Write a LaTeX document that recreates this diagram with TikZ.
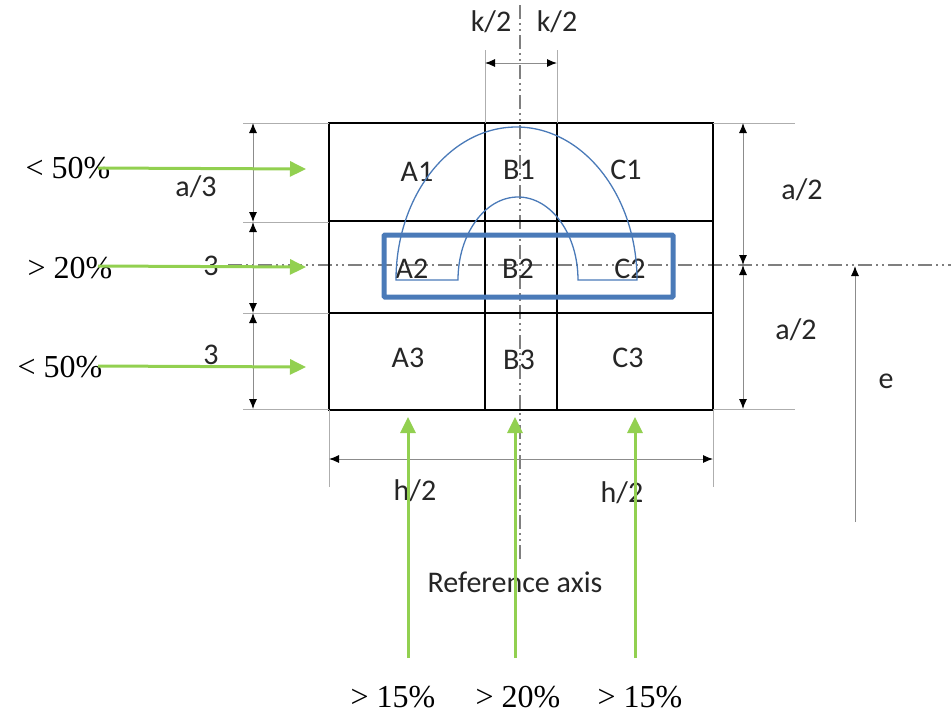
\documentclass[tikz,border=0pt]{standalone}
\usepackage{fontspec}
\setmainfont{Liberation Serif}
\newfontfamily\calib{Carlito}
\usetikzlibrary{arrows.meta}
\definecolor{grn}{HTML}{92D050}
\definecolor{blu}{HTML}{4A7AB8}
\definecolor{dimg}{HTML}{8C8C8C}
\definecolor{axg}{HTML}{7F7F7F}
\tikzset{
  grid/.style={line width=2.8pt,black},
  dimline/.style={line width=1pt,dimg,-{Latex[length=10pt,width=8pt,black]}},
  extline/.style={line width=1pt,dimg!70},
  axis/.style={line width=2pt,axg,dash pattern=on 14pt off 4pt on 2pt off 4pt on 2pt off 4pt},
  garrow/.style={line width=3pt,grn,-{Triangle[length=16pt,width=15pt]}},
  pct/.style={font=\fontsize{32}{36}\selectfont,inner sep=0pt},
  lbl/.style={font=\calib\fontsize{30}{34}\selectfont,text=black!85,inner sep=0pt},
  arch/.style={line width=1.3pt,blu}
}
\begin{document}
\begin{tikzpicture}[x=1pt,y=-1pt]
\useasboundingbox (0,0) rectangle (951,716);
% axes
\coordinate (vtop) at (520,5);
\coordinate (vbot) at (520,560);
\coordinate (hl) at (228,265);
\coordinate (hr) at (951,265);
\draw[axis] (vtop) -- (vbot);
\draw[axis] (hl) -- (hr);
% grid
\coordinate (g00) at (329,123); \coordinate (g11) at (713,410);
\draw[grid] (g00) rectangle (g11);
\coordinate (v1t) at (485,123); \coordinate (v1b) at (485,410);
\coordinate (v2t) at (557,123); \coordinate (v2b) at (557,410);
\coordinate (h1l) at (329,221); \coordinate (h1r) at (713,221);
\coordinate (h2l) at (329,313); \coordinate (h2r) at (713,313);
\draw[grid] (v1t) -- (v1b);
\draw[grid] (v2t) -- (v2b);
\draw[grid] (h1l) -- (h1r);
\draw[grid] (h2l) -- (h2r);
% cell labels
\node[lbl] (A1) at (417,172) {A1};
\node[lbl] (B1) at (519,170) {B1};
\node[lbl] (C1) at (626,170) {C1};
\node[lbl] (A2) at (412,269) {A2};
\node[lbl] (B2) at (518,269) {B2};
\node[lbl] (C2) at (630,269) {C2};
\node[lbl] (A3) at (408,358) {A3};
\node[lbl] (B3) at (519,360) {B3};
\node[lbl] (C3) at (628,358) {C3};
% blue arches
\draw[arch] (396,280) arc[start angle=180,end angle=360,x radius=120.5,y radius=153]
  -- (578,280) arc[start angle=0,end angle=-180,x radius=60,y radius=83] -- cycle;
\draw[line width=5pt,blu,rounded corners=1pt] (384,235) rectangle (673,297);
% left dimensions
\coordinate (le1a) at (243,123); \coordinate (le1b) at (329,123);
\coordinate (le2a) at (243,222); \coordinate (le2b) at (329,222);
\coordinate (le3a) at (243,313); \coordinate (le3b) at (329,313);
\coordinate (le4a) at (243,409); \coordinate (le4b) at (329,409);
\foreach \i in {1,2,3,4} \draw[extline] (le\i a) -- (le\i b);
\coordinate (ld1) at (253,123); \coordinate (ld2) at (253,222);
\coordinate (ld3) at (253,313); \coordinate (ld4) at (253,409);
\coordinate (ldm1) at (253,172); \coordinate (ldm2) at (253,267); \coordinate (ldm3) at (253,361);
\draw[dimline] (ldm1) -- (ld1); \draw[dimline] (ldm1) -- (ld2);
\draw[dimline] (ldm2) -- (ld2); \draw[dimline] (ldm2) -- (ld3);
\draw[dimline] (ldm3) -- (ld3); \draw[dimline] (ldm3) -- (ld4);
\node[lbl] (la1) at (196,187) {a/3};
\node[lbl] (la2) at (211,266) {3};
\node[lbl] (la3) at (211,355) {3};
% right dimensions
\coordinate (re1a) at (713,123); \coordinate (re1b) at (795,123);
\coordinate (re2a) at (713,409); \coordinate (re2b) at (795,409);
\draw[extline] (re1a) -- (re1b);
\draw[extline] (re2a) -- (re2b);
\coordinate (rd1) at (743,123); \coordinate (rd2) at (743,265); \coordinate (rd3) at (743,409);
\coordinate (rdm1) at (743,194); \coordinate (rdm2) at (743,337);
\draw[dimline] (rdm1) -- (rd1); \draw[dimline] (rdm1) -- (rd2);
\draw[dimline] (rdm2) -- (rd2); \draw[dimline] (rdm2) -- (rd3);
\node[lbl] (ra1) at (802,190) {a/2};
\node[lbl] (ra2) at (796,330) {a/2};
\coordinate (eb) at (855,522); \coordinate (et) at (855,266);
\draw[dimline] (eb) -- (et);
\node[lbl] (el) at (886,381) {e};
% top dimension k/2
\coordinate (te1a) at (485,50); \coordinate (te1b) at (485,123);
\coordinate (te2a) at (557,50); \coordinate (te2b) at (557,123);
\draw[extline] (te1a) -- (te1b);
\draw[extline] (te2a) -- (te2b);
\coordinate (tdc) at (520,63); \coordinate (tdl) at (485,63); \coordinate (tdr) at (557,63);
\draw[dimline] (tdc) -- (tdl); \draw[dimline] (tdc) -- (tdr);
\node[lbl] (k1) at (491,22) {k/2};
\node[lbl] (k2) at (557,22) {k/2};
% bottom dimension h/2
\coordinate (be1a) at (329,410); \coordinate (be1b) at (329,487);
\coordinate (be2a) at (713,410); \coordinate (be2b) at (713,487);
\draw[extline] (be1a) -- (be1b);
\draw[extline] (be2a) -- (be2b);
\coordinate (bdc) at (520,459); \coordinate (bdl) at (329,459); \coordinate (bdr) at (713,459);
\draw[dimline] (bdc) -- (bdl); \draw[dimline] (bdc) -- (bdr);
\node[lbl] (hh1) at (415,491) {h/2};
\node[lbl] (hh2) at (622,493) {h/2};
\node[lbl] (ref) at (515,582) {Reference axis};
% green arrows left
\node[pct] (p1) at (68,168) {< 50\%};
\node[pct] (p2) at (70,268) {> 20\%};
\node[pct] (p3) at (60,367) {< 50\%};
\coordinate (gl1) at (98,168); \coordinate (gr1) at (306,169);
\coordinate (gl2) at (98,266); \coordinate (gr2) at (306,267);
\coordinate (gl3) at (98,366); \coordinate (gr3) at (306,367);
\draw[garrow] (gl1) -- (gr1);
\draw[garrow] (gl2) -- (gr2);
\draw[garrow] (gl3) -- (gr3);
% green arrows bottom
\node[pct] (q1) at (393,697) {> 15\%};
\node[pct] (q2) at (518,697) {> 20\%};
\node[pct] (q3) at (640,697) {> 15\%};
\coordinate (gb1) at (408,658); \coordinate (gt1) at (408,417);
\coordinate (gb2) at (515,658); \coordinate (gt2) at (515,417);
\coordinate (gb3) at (635,658); \coordinate (gt3) at (635,417);
\draw[garrow] (gb1) -- (gt1);
\draw[garrow] (gb2) -- (gt2);
\draw[garrow] (gb3) -- (gt3);
\end{tikzpicture}
\end{document}
